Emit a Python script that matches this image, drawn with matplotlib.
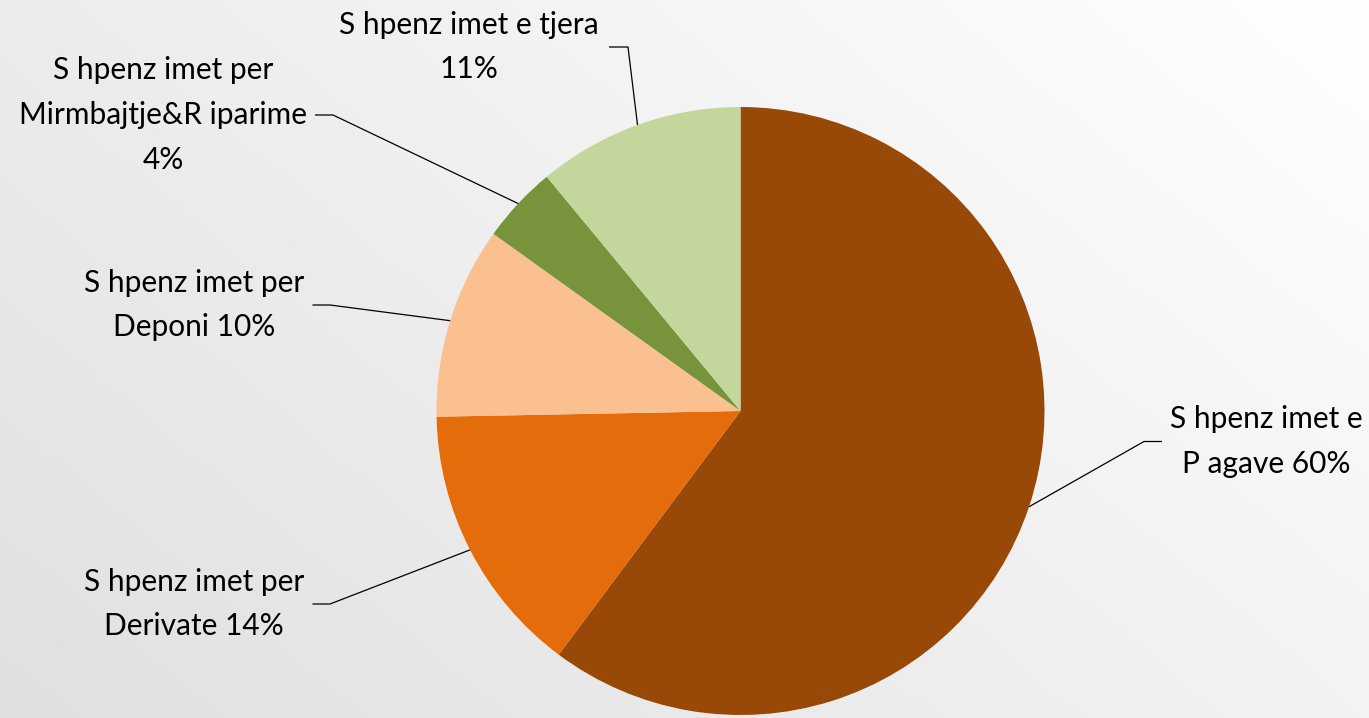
import numpy as np
import matplotlib
matplotlib.use("Agg")
import matplotlib.pyplot as plt

# ---- data ----
categories = ["S hpenz imet e\nP agave 60%",
              "S hpenz imet per\nDerivate 14%",
              "S hpenz imet per\nDeponi 10%",
              "S hpenz imet per\nMirmbajtje&R iparime\n4%",
              "S hpenz imet e tjera\n11%"]
values = [60.2, 14.5, 10.2, 4.1, 11.0]
colors = ["#984807", "#e46c0a", "#fac090", "#77933c", "#c3d69b"]

W, H = 1369, 718
CX, CY, R = 740.5, 411.0, 304.0   # pie centre / radius in pixels


def px(x, y):
    return (x - CX) / R, (CY - y) / R


fig = plt.figure(figsize=(W / 100, H / 100), dpi=100)
ax = fig.add_axes([0, 0, 1, 1])
x0, y1 = px(0, 0)
x1, y0 = px(W, H)

# background gradient (white top-right -> grey bottom-left)
gx = np.linspace(0, W, 200)
gy = np.linspace(0, H, 120)
GX, GY = np.meshgrid(gx, gy)
val = (255 - 19 * (W - GX) / W - 12 * GY / H) / 255.0
img = np.dstack([val, val, val])
ax.imshow(img, extent=[x0, x1, y0, y1], origin="upper", aspect="auto", zorder=0)

wedges, _ = ax.pie(values, colors=colors, startangle=90, counterclock=False,
                   radius=1, center=(0, 0),
                   wedgeprops=dict(linewidth=0, edgecolor="none"))
for w in wedges:
    w.set_zorder(2)

# label layout: (text centre x px, centre y px, elbow x px, line end x px)
layout = [
    (1266, 441.5, 1144, 1162),
    (194, 604, 330, 312.5),
    (194, 305, 330, 312.5),
    (163, 115, 333, 315),
    (469, 47, 628, 609),
]

font = "Lato"
for w, lab, (tx, ty, ex, lx) in zip(wedges, categories, layout):
    ang = np.deg2rad((w.theta1 + w.theta2) / 2)
    axx, axy = np.cos(ang) * w.r, np.sin(ang) * w.r
    exd, eyd = px(ex, ty)
    lxd, _ = px(lx, ty)
    ax.plot([axx, exd, lxd], [axy, eyd, eyd], color="black", lw=0.9, zorder=3,
            solid_capstyle="butt")
    tdx, tdy = px(tx, ty)
    ax.text(tdx, tdy, lab, ha="center", va="center", multialignment="center",
            fontsize=21.5, family=font, color="black", linespacing=1.72, zorder=4)

ax.set_xlim(x0, x1)
ax.set_ylim(y0, y1)
ax.set_aspect("auto")
ax.axis("off")
fig.savefig("out.png", dpi=100)
